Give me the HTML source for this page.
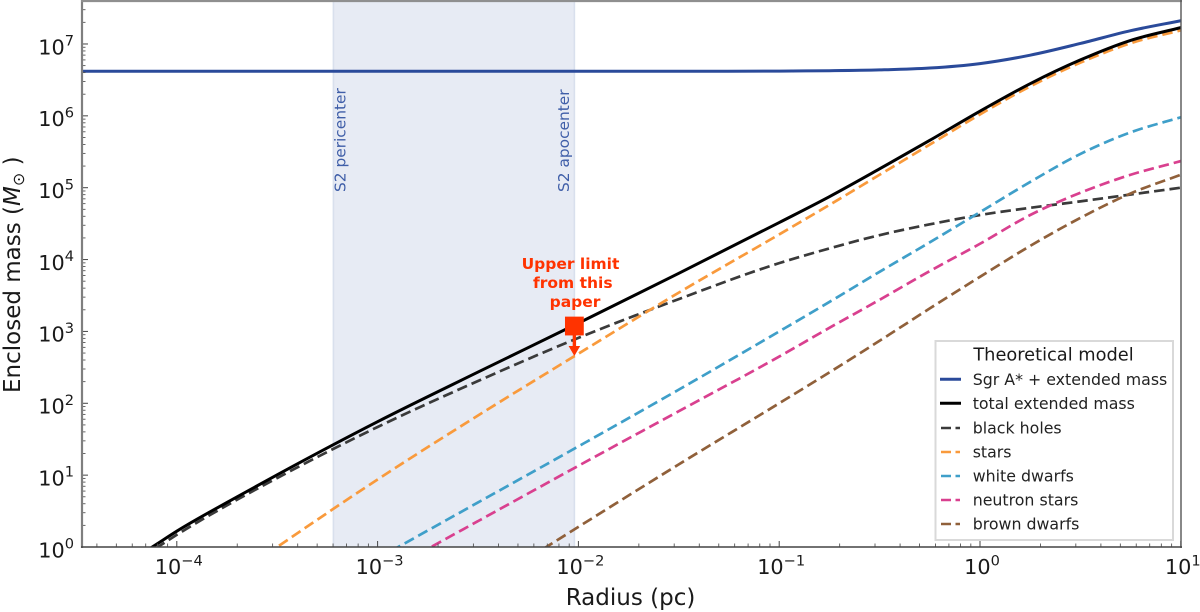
<!DOCTYPE html>
<html lang="en">
<head>
<meta charset="utf-8">
<title>Enclosed mass vs radius</title>
<style>
  html, body { margin: 0; padding: 0; background: #fff; }
  body { width: 1200px; height: 612px; overflow: hidden; }
  svg { display: block; font-family: "DejaVu Sans", "Liberation Sans", sans-serif; filter: blur(0.35px); }
</style>
</head>
<body>
<svg id="chart" xmlns="http://www.w3.org/2000/svg" width="1200" height="612" viewBox="0 0 1200 612">
  <defs>
    <clipPath id="plot-clip"><rect x="82" y="1" width="1099" height="546"></rect></clipPath>
  </defs>
  <rect x="0" y="0" width="1200" height="612" fill="#ffffff"></rect>
  <g id="span-layer"></g>
  <g id="series-layer" clip-path="url(#plot-clip)"></g>
  <g id="tick-layer"></g>

  <line x1="82" y1="0" x2="82" y2="548" stroke="#7f7f7f" stroke-width="2.2"></line>
  <line x1="81" y1="1" x2="1182" y2="1" stroke="#8f8f8f" stroke-width="2.2"></line>
  <line x1="1181" y1="0" x2="1181" y2="548" stroke="#555555" stroke-width="1.4"></line>
  <line x1="81" y1="547" x2="1182" y2="547" stroke="#444444" stroke-width="1.4"></line>

  <text transform="translate(345.5,192) rotate(-90)" font-size="15.4" fill="#3f5ea8">S2 pericenter</text>
  <text transform="translate(569,192) rotate(-90)" font-size="15.4" fill="#3f5ea8">S2 apocenter</text>

  <text font-size="15.5" font-weight="700" fill="#ff3300" text-anchor="middle"><tspan x="570.5" y="269">Upper limit</tspan><tspan x="572.8" y="288">from this</tspan><tspan x="575" y="307">paper</tspan></text>

  <text x="630.5" y="605" font-size="23" fill="#1a1a1a" text-anchor="middle">Radius (pc)</text>
  <text transform="translate(20,393) rotate(-90)" font-size="23" fill="#1a1a1a">Enclosed mass (<tspan font-style="italic">M</tspan><tspan font-size="16" dy="4">⊙</tspan><tspan dy="-4"> )</tspan></text>

  <g>
    <rect x="935.5" y="341" width="237.5" height="199" fill="#ffffff" stroke="#d9d9d9" stroke-width="2"></rect>
    <text x="1053.5" y="360.5" font-size="17.8" fill="#1a1a1a" text-anchor="middle">Theoretical model</text>

    <g>
      <line x1="940" y1="379.3" x2="961" y2="379.3" stroke="#2a4a9a" stroke-width="3"></line>
      <text x="972.7" y="385" font-size="15.8" fill="#222222">Sgr A* + extended mass</text>
    </g>
    <g>
      <line x1="940" y1="403.3" x2="961" y2="403.3" stroke="#000000" stroke-width="3"></line>
      <text x="972.7" y="409" font-size="15.8" fill="#222222">total extended mass</text>
    </g>
    <g>
      <line x1="941" y1="428" x2="960" y2="428" stroke="#3a3a3a" stroke-width="2.6" stroke-dasharray="10 4.5"></line>
      <text x="972.7" y="433.5" font-size="15.8" fill="#222222">black holes</text>
    </g>
    <g>
      <line x1="941" y1="452" x2="960" y2="452" stroke="#f99a3c" stroke-width="2.6" stroke-dasharray="10 4.5"></line>
      <text x="972.7" y="457.5" font-size="15.8" fill="#222222">stars</text>
    </g>
    <g>
      <line x1="941" y1="476" x2="960" y2="476" stroke="#3f9fc9" stroke-width="2.6" stroke-dasharray="10 4.5"></line>
      <text x="972.7" y="481.5" font-size="15.8" fill="#222222">white dwarfs</text>
    </g>
    <g>
      <line x1="941" y1="500" x2="960" y2="500" stroke="#d9408f" stroke-width="2.6" stroke-dasharray="10 4.5"></line>
      <text x="972.7" y="505.5" font-size="15.8" fill="#222222">neutron stars</text>
    </g>
    <g>
      <line x1="941" y1="524" x2="960" y2="524" stroke="#90603a" stroke-width="2.6" stroke-dasharray="10 4.5"></line>
      <text x="972.7" y="529.5" font-size="15.8" fill="#222222">brown dwarfs</text>
    </g>
  </g>
</svg>

<script>
// Chart data: log10 of radius (pc) and log10 of enclosed mass (solar masses).
const logRadius = [-4.47, -4.3, -4.1, -4, -3.75, -3.5, -3, -2.5, -2, -1.5, -1, -0.75, -0.5, -0.25, 0, 0.25, 0.5, 0.75, 1];
const logMassSgrA = [6.62, 6.62, 6.62, 6.62, 6.62, 6.62, 6.62, 6.62, 6.62, 6.62, 6.623, 6.628, 6.639, 6.665, 6.727, 6.844, 7.007, 7.185, 7.324];
const logMassTotal = [null, -0.32, 0.04, 0.22, 0.62, 1.005, 1.744, 2.434, 3.115, 3.809, 4.515, 4.875, 5.262, 5.659, 6.065, 6.448, 6.778, 7.05, 7.228];
const logMassBlackHoles = [null, -0.37, -0.01, 0.17, 0.58, 0.96, 1.67, 2.31, 2.91, 3.45, 3.95, 4.155, 4.34, 4.49, 4.62, 4.72, 4.81, 4.905, 5.0];
const logMassStars = [null, null, null, -0.96, -0.48, 0, 0.94, 1.83, 2.69, 3.54, 4.35, 4.76, 5.18, 5.6, 6.02, 6.41, 6.74, 7.01, 7.19];
const logMassWhiteDwarfs = [null, null, null, null, null, null, -0.16, 0.62, 1.4, 2.19, 3.0, 3.41, 3.83, 4.24, 4.66, 5.08, 5.47, 5.77, 5.98];
const logMassNeutronStars = [null, null, null, null, null, null, -0.41, 0.36, 1.13, 1.89, 2.65, 3.05, 3.44, 3.84, 4.22, 4.62, 4.93, 5.18, 5.37];
const logMassBrownDwarfs = [null, null, null, null, null, null, null, -0.6, 0.28, 1.15, 2.0, 2.43, 2.87, 3.32, 3.76, 4.19, 4.58, 4.92, 5.18];

const xTickExponents = [-4, -3, -2, -1, 0, 1];
const yTickExponents = [0, 1, 2, 3, 4, 5, 6, 7];
const minorTickFactors = [2, 3, 4, 5, 6, 7, 8, 9];

const s2PericenterLogRadius = -3.22;
const s2ApocenterLogRadius = -2.02;
const upperLimitLogRadius = -2.02;
const upperLimitLogMass = 3.075;

// Axis functions
const xOrigin = 980, xPerDecade = 200.8;
const yOrigin = 547, yPerDecade = 71.86;
const plotLeft = 82, plotRight = 1181, plotTop = 1, plotBottom = 547;
function xAxis(logR) { return xOrigin + xPerDecade * logR; }
function yAxis(logM) { return yOrigin - yPerDecade * logM; }

const SVGNS = 'http://www.w3.org/2000/svg';
function make(tag, attrs, parent) {
  const el = document.createElementNS(SVGNS, tag);
  for (const k in attrs) el.setAttribute(k, attrs[k]);
  parent.appendChild(el);
  return el;
}

const spanLayer = document.getElementById('span-layer');
const seriesLayer = document.getElementById('series-layer');
const tickLayer = document.getElementById('tick-layer');

// S2 orbit band
const bandLeft = xAxis(s2PericenterLogRadius), bandRight = xAxis(s2ApocenterLogRadius);
const band = make('rect', { x: bandLeft, y: plotTop, width: bandRight - bandLeft, height: plotBottom - plotTop, fill: '#e7ebf4' }, spanLayer);


[bandLeft, bandRight].forEach(function (xp) {
  const edge = make('line', { x1: xp, x2: xp, y1: plotTop, y2: plotBottom, stroke: '#d9e0ed', 'stroke-width': 1.6 }, spanLayer);
  
  
});

// Smooth cubic path through the data points, with tangents weighted for uneven spacing
function buildPath(xs, ys) {
  const pts = [];
  xs.forEach(function (x, i) {
    if (ys[i] !== null) pts.push([xAxis(x), yAxis(ys[i])]);
  });
  const n = pts.length;
  const slopes = [];
  for (let i = 0; i < n - 1; i++) slopes.push((pts[i + 1][1] - pts[i][1]) / (pts[i + 1][0] - pts[i][0]));
  const tangents = [];
  for (let i = 0; i < n; i++) {
    if (i === 0) tangents.push(slopes[0]);
    else if (i === n - 1) tangents.push(slopes[n - 2]);
    else {
      const h0 = pts[i][0] - pts[i - 1][0], h1 = pts[i + 1][0] - pts[i][0];
      tangents.push((slopes[i - 1] * h1 + slopes[i] * h0) / (h0 + h1));
    }
  }
  let d = 'M' + pts[0][0].toFixed(2) + ' ' + pts[0][1].toFixed(2);
  for (let i = 0; i < n - 1; i++) {
    const h = pts[i + 1][0] - pts[i][0];
    d += 'C' + (pts[i][0] + h / 3).toFixed(2) + ' ' + (pts[i][1] + tangents[i] * h / 3).toFixed(2) + ' ' +
         (pts[i + 1][0] - h / 3).toFixed(2) + ' ' + (pts[i + 1][1] - tangents[i + 1] * h / 3).toFixed(2) + ' ' +
         pts[i + 1][0].toFixed(2) + ' ' + pts[i + 1][1].toFixed(2);
  }
  return d;
}

const seriesList = [
  { key: 'black-holes', values: logMassBlackHoles, color: '#3a3a3a', width: 2.7, dash: '10.5 5' },
  { key: 'stars', values: logMassStars, color: '#f99a3c', width: 2.7, dash: '10.5 5' },
  { key: 'white-dwarfs', values: logMassWhiteDwarfs, color: '#3f9fc9', width: 2.7, dash: '10.5 5' },
  { key: 'neutron-stars', values: logMassNeutronStars, color: '#d9408f', width: 2.7, dash: '10.5 5' },
  { key: 'brown-dwarfs', values: logMassBrownDwarfs, color: '#90603a', width: 2.7, dash: '10.5 5' },
  { key: 'total-extended-mass', values: logMassTotal, color: '#000000', width: 3, dash: null },
  { key: 'sgr-a-plus-extended-mass', values: logMassSgrA, color: '#2a4a9a', width: 3, dash: null }
];
seriesList.forEach(function (s) {
  const line = make('path', { d: buildPath(logRadius, s.values), fill: 'none', stroke: s.color, 'stroke-width': s.width }, seriesLayer);
  if (s.dash) line.setAttribute('stroke-dasharray', s.dash);
  
  
});

// Upper limit marker with downward arrow
const markerX = xAxis(upperLimitLogRadius), markerY = yAxis(upperLimitLogMass);
const shaft = make('line', { x1: markerX, x2: markerX, y1: markerY, y2: markerY + 21, stroke: '#ff3300', 'stroke-width': 3.4 }, seriesLayer);


const head = make('polygon', { points: (markerX - 5.8) + ',' + (markerY + 20) + ' ' + (markerX + 5.8) + ',' + (markerY + 20) + ' ' + markerX + ',' + (markerY + 30), fill: '#ff3300' }, seriesLayer);


const marker = make('rect', { x: markerX - 9.4, y: markerY - 9.4, width: 18.8, height: 18.8, fill: '#ff3300' }, seriesLayer);



// Ticks and tick labels
function tickLabel(x, y, anchor, exp) {
  const t = make('text', { x: x, y: y, 'text-anchor': anchor, 'font-size': 20.8, fill: '#1a1a1a' }, tickLayer);
  const base = make('tspan', {}, t);
  base.textContent = '10';
  const sup = make('tspan', { dy: -8.7, 'font-size': 14.6 }, t);
  sup.textContent = (exp < 0 ? '\u2212' : '') + Math.abs(exp);
  return t;
}

xTickExponents.forEach(function (e) {
  const xp = xAxis(e);
  const tick = make('line', { x1: xp, x2: xp, y1: plotBottom, y2: plotBottom - 6, stroke: '#444444', 'stroke-width': 1 }, tickLayer);
  
  
  const label = tickLabel(xp + 2, plotBottom + 27, 'middle', e);
  
  
});
for (let e = -5; e <= 0; e++) {
  minorTickFactors.forEach(function (f) {
    const v = e + Math.log10(f);
    const xp = xAxis(v);
    if (xp <= plotLeft || xp >= plotRight) return;
    const tick = make('line', { x1: xp, x2: xp, y1: plotBottom, y2: plotBottom - 3.5, stroke: '#555555', 'stroke-width': 0.9 }, tickLayer);
    
    
  });
}

yTickExponents.forEach(function (e) {
  const yp = yAxis(e);
  const tick = make('line', { x1: plotLeft, x2: plotLeft + 6, y1: yp, y2: yp, stroke: '#444444', 'stroke-width': 1 }, tickLayer);
  
  
  const label = tickLabel(74, yp + 10.3, 'end', e);
  
  
});
for (let e = 0; e <= 7; e++) {
  minorTickFactors.forEach(function (f) {
    const v = e + Math.log10(f);
    const yp = yAxis(v);
    if (yp <= plotTop) return;
    const tick = make('line', { x1: plotLeft, x2: plotLeft + 3.5, y1: yp, y2: yp, stroke: '#555555', 'stroke-width': 0.9 }, tickLayer);
    
    
  });
}
</script>
</body>
</html>
